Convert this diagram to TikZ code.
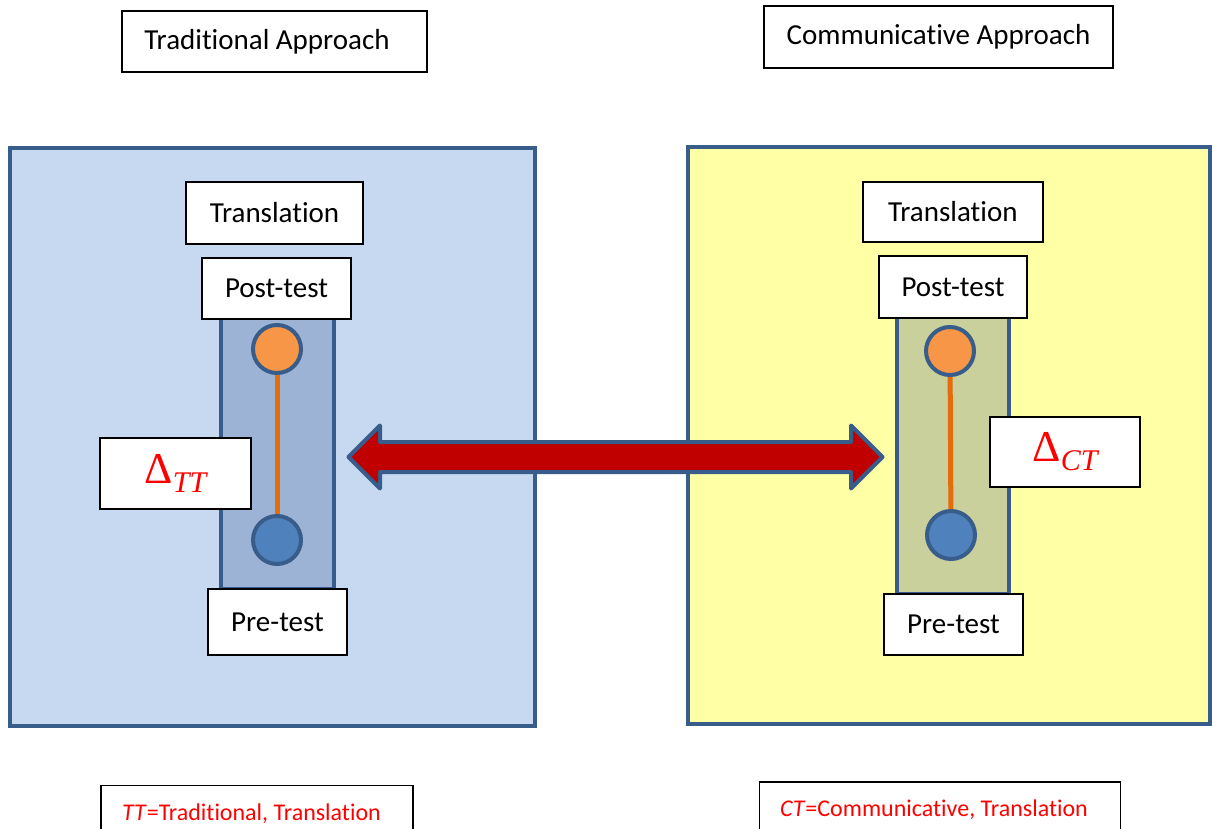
\documentclass[tikz,border=0pt]{standalone}
\usepackage{fontspec}
\setmainfont{Carlito}[Ligatures = NoCommon]
\newfontfamily\deltafont{Liberation Serif}
\usetikzlibrary{shapes.arrows}

\definecolor{frameblue}{HTML}{385D8A}
\definecolor{paleblue}{HTML}{C6D9F1}
\definecolor{colblue}{HTML}{9DB3D5}
\definecolor{paleyellow}{HTML}{FFFFA6}
\definecolor{colgreen}{HTML}{C9D09B}
\definecolor{dotorange}{HTML}{F79646}
\definecolor{dotblue}{HTML}{4F81BD}
\definecolor{stemorange}{HTML}{E46C0A}
\definecolor{arrowred}{HTML}{C00000}

% gain symbol with its group as subscript
\newcommand{\gain}[1]{{\deltafont\fontsize{44}{50}\selectfont Δ}\raisebox{-9pt}{\deltafont\fontsize{30}{36}\selectfont\itshape #1}}

\begin{document}
\begin{tikzpicture}[x = 1pt, y = -1pt,
	tag/.style = {draw = black, line width = 1.8pt, fill = white, inner sep = 0pt, font = \fontsize{29}{34}\selectfont},
	gainbox/.style = {tag, text = red},
	keybox/.style = {tag, text = red, font = \fontsize{24}{29}\selectfont},
	panel/.style = {draw = frameblue, line width = 4pt},
	dot/.style = {circle, draw = frameblue, line width = 4pt, minimum size = 48pt, inner sep = 0pt},
	stem/.style = {stemorange, line width = 5pt}]
	\path[use as bounding box, fill = white] (0,0) rectangle (1212,829);

	% headings
	\node[tag, minimum width = 305, minimum height = 61] (trad) at (274.5,41.3) {Traditional Approach\hspace*{15pt}};
	\node[tag, minimum width = 349, minimum height = 62] (comm) at (938.5,37) {Communicative Approach};

	% the two groups
	\draw[panel, fill = paleblue] (10,148) rectangle (535,726);
	\draw[panel, fill = paleyellow] (688,147) rectangle (1210,724);

	% test columns
	\draw[panel, fill = colblue] (221,318) rectangle (334,589);
	\draw[panel, fill = colgreen] (897,316) rectangle (1009,594);

	\node[dot, fill = dotorange] (upL) at (277,349) {};
	\node[dot, fill = dotblue] (lowL) at (277,540) {};
	\node[dot, fill = dotorange] (upR) at (950,351) {};
	\node[dot, fill = dotblue] (lowR) at (951,535) {};
	\draw[stem] (upL) -- (lowL);
	\draw[stem] (upR) -- (lowR);

	% left group labels
	\node[tag, minimum width = 177, minimum height = 62] (transL) at (274.5,213) {Translation};
	\node[tag, minimum width = 149, minimum height = 61] (postL) at (276.5,288.5) {Post-test};
	\node[tag, minimum width = 139, minimum height = 66] (preL) at (277.5,622) {Pre-test};
	\node[gainbox, minimum width = 151, minimum height = 71] (gainTT) at (175.5,473.5) {\gain{TT}};

	% right group labels
	\node[tag, minimum width = 180, minimum height = 60] (transR) at (952.8,212) {Translation};
	\node[tag, minimum width = 148, minimum height = 62] (postR) at (953,287) {Post-test};
	\node[tag, minimum width = 139, minimum height = 61] (preR) at (953.5,624.5) {Pre-test};
	\node[gainbox, minimum width = 150, minimum height = 70] (gainCT) at (1065,452) {\gain{CT}};

	% comparison arrow
	\node[double arrow, draw = frameblue, fill = arrowred, line width = 4pt, line join = round,
		inner sep = 13pt, minimum height = 534, double arrow head extend = 16.5pt] (link) at (615.5,457) {};

	% keys
	\node[keybox, minimum width = 312, minimum height = 56] (keyTT) at (257,813.5) {\textit{TT}=Traditional, Translation\hspace*{11pt}};
	\node[keybox, minimum width = 361, minimum height = 56] (keyCT) at (940,810) {\textit{CT}=Communicative, Translation\hspace*{12pt}};
\end{tikzpicture}
\end{document}
